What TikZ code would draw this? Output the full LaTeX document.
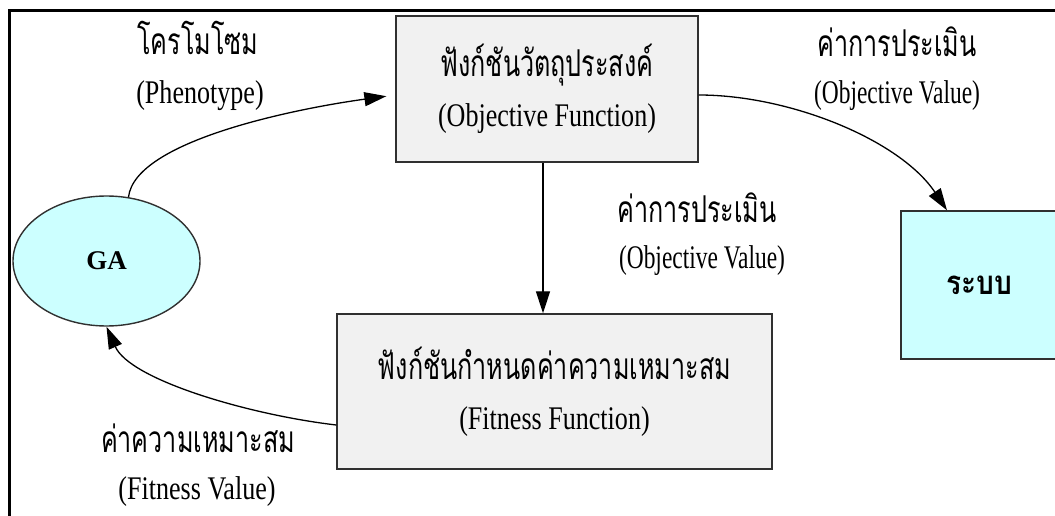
\documentclass[tikz,border=0pt]{standalone}
\usepackage{fontspec}
\setmainfont{Liberation Serif}[FakeStretch=0.79]
\newfontfamily\latinnarrow{Liberation Serif}[FakeStretch=0.71]
\newfontfamily\thaifont[Script=Thai,FakeStretch=0.68]{Loma}
\newfontfamily\thaibold[Script=Thai,FakeStretch=0.85]{Loma}
\newfontfamily\latinbold{Liberation Serif}
\newcommand\thaitext[1]{{\fontsize{37}{50}\thaifont #1}}
\usetikzlibrary{arrows.meta,shapes.geometric}
\definecolor{boxgray}{HTML}{F1F1F1}
\definecolor{lightcyan}{HTML}{CCFFFF}
\definecolor{edgegray}{HTML}{303030}
\tikzset{
  txt/.style={font=\fontsize{33}{50}\selectfont},
  procbox/.style={draw=edgegray, line width=1.4pt, fill=boxgray, inner sep=0pt,
    align=center, txt},
  cyanbox/.style={draw=edgegray, line width=1.4pt, fill=lightcyan, inner sep=0pt},
  lbl/.style={anchor=base, inner sep=0pt, txt},
  narrowlbl/.style={lbl, font=\fontsize{33}{50}\selectfont\latinnarrow},
  conn/.style={line width=1.3pt, -{Triangle[length=22pt,width=14pt]}}
}
\begin{document}
\begin{tikzpicture}[x=1pt,y=-1pt]
\useasboundingbox (0,0) rectangle (1055,516);
\clip (0,0) rectangle (1055,516);
% outer frame, open to the right and bottom
\draw[line width=3pt] (1070,10.5) -- (9.5,10.5) -- (9.5,530);

% main blocks
\node[procbox, minimum width=302pt, minimum height=146pt] (obj) at (547,89)
  {\thaitext{ฟังก์ชันวัตถุประสงค์}\\(Objective Function)};
\node[procbox, minimum width=435pt, minimum height=155pt] (fit) at (554.5,391.5)
  {\thaitext{ฟังก์ชันกำหนดค่าความเหมาะสม}\\(Fitness Function)};
\node[cyanbox, ellipse, minimum width=187pt, minimum height=130pt] (ga) at (106.5,261)
  {\fontsize{27}{30}\selectfont\latinbold\bfseries GA};
\node[cyanbox, minimum width=157pt, minimum height=148pt] (sys) at (979.5,285)
  {\fontsize{33}{40}\selectfont\thaibold\bfseries ระบบ};

% labels
\node[lbl] (phth) at (198,55) {\thaitext{โครโมโซม}};
\node[lbl] (phen) at (200,104) {(Phenotype)};
\node[lbl] (ovth1) at (897,57) {\thaitext{ค่าการประเมิน}};
\node[narrowlbl] (oven1) at (897,104) {(Objective Value)};
\node[lbl] (ovth2) at (697,222) {\thaitext{ค่าการประเมิน}};
\node[narrowlbl] (oven2) at (702,268) {(Objective Value)};
\node[lbl] (fvth) at (198,452.7) {\thaitext{ค่าความเหมาะสม}};
\node[lbl] (fven) at (197,499) {(Fitness Value)};

% connectors
\draw[conn, shorten >=9pt] (ga.71) .. controls (135,140) and (300,108) .. ([yshift=-6pt]obj.west);
\draw[conn] ([yshift=-6pt]obj.east) .. controls (790,95) and (900,140) .. ([xshift=-32.5pt]sys.north);
\draw[conn] ([xshift=-4pt]obj.south) -- ([xshift=-4pt]obj.south |- fit.north);
\draw[conn] ([yshift=-33.5pt]fit.west) .. controls (250,415) and (130,380) .. (ga.south);
\end{tikzpicture}
\end{document}
